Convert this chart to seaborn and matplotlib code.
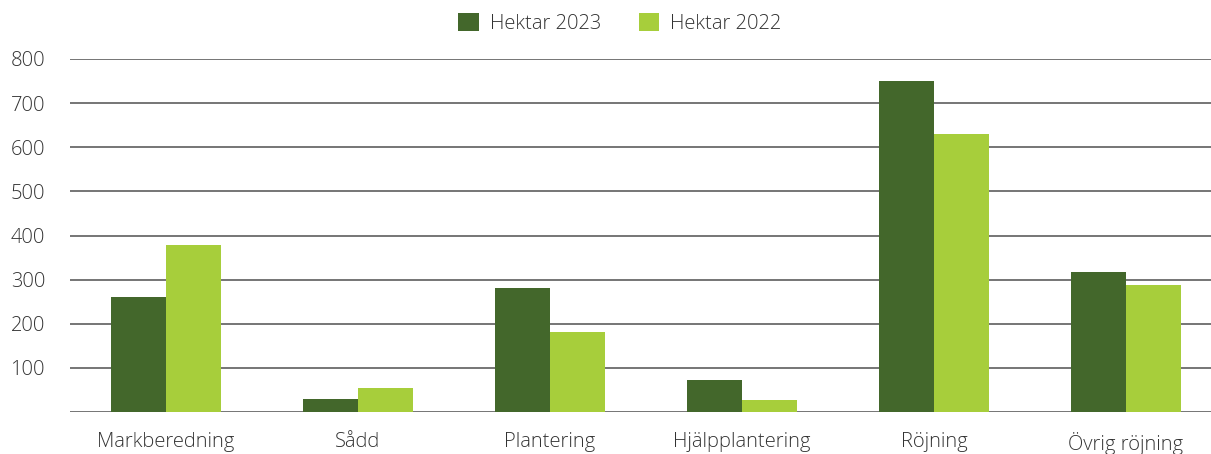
import matplotlib
matplotlib.use("Agg")
import matplotlib.pyplot as plt
import seaborn as sns
import pandas as pd
from matplotlib.patches import Patch

categories = ["Markberedning", "Sådd", "Plantering", "Hjälpplantering", "Röjning", "Övrig röjning"]
hektar_2023 = [260, 30, 280, 72, 750, 318]
hektar_2022 = [378, 55, 182, 27, 630, 288]
series_names = ["Hektar 2023", "Hektar 2022"]
colors = ["#43672B", "#A7CE3B"]
yticks = [100, 200, 300, 400, 500, 600, 700, 800]

df = pd.DataFrame({
    "Kategori": categories * 2,
    "Hektar": hektar_2023 + hektar_2022,
    "Serie": [series_names[0]] * len(categories) + [series_names[1]] * len(categories),
})

sns.set_theme(style="white")
plt.rcParams["font.family"] = ["Open Sans", "DejaVu Sans"]
plt.rcParams["font.weight"] = "light"

fig = plt.figure(figsize=(12.11, 4.54), dpi=100)
ax = fig.add_axes([70 / 1211, (454 - 412) / 454, 1 - 70 / 1211, (412 - 59) / 454])

sns.barplot(data=df, x="Kategori", y="Hektar", hue="Serie", palette=colors,
            width=0.57, gap=0, saturation=1, ax=ax, legend=False, zorder=3,
            linewidth=0, edgecolor="none")

ax.set_ylim(0, 800)
ax.set_xlim(-0.5, 5.5 - 11 / 192)
ax.set_yticks(yticks)
ax.set_yticklabels([str(v) for v in yticks], fontsize=14.5, color="#333333", fontweight="light")
ax.tick_params(axis="x", labelsize=14.5, colors="#333333", pad=14.5, length=0)
ax.tick_params(axis="y", pad=18, length=0)
for lbl in ax.get_xticklabels():
    lbl.set_color("#333333")
    lbl.set_fontweight("light")
ax.set_xlabel("")
ax.set_ylabel("")
for s in ax.spines.values():
    s.set_visible(False)
for v in [0] + yticks:
    ax.axhline(v, color="#505050", linewidth=1.1, zorder=1)
ax.grid(False)

handles = [Patch(facecolor=c, edgecolor="none") for c in colors]
fig.legend(handles, series_names, loc="upper center", bbox_to_anchor=(0.512, 1.012),
           ncol=2, frameon=False, fontsize=14.5, handlelength=1.0, handleheight=1.0,
           columnspacing=1.9, handletextpad=0.55, labelcolor="#333333",
           prop={"weight": "light", "size": 14.5})

fig.savefig("out.png", dpi=100)
